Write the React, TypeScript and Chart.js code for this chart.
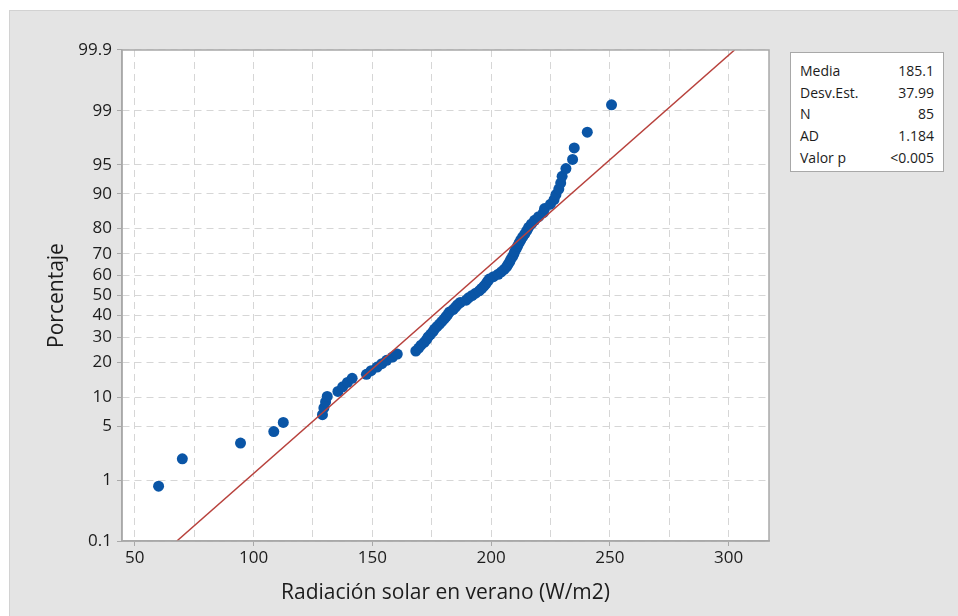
import React, { useEffect, useRef } from "react";
import Chart from "chart.js/auto";

// Radiación solar en verano (W/m2), ordered values
const radiacion: number[] = [
  60, 70, 94.5, 108.5, 112.5, 129, 129.6, 130.3, 131, 135.5,
  137.5, 139.5, 141.5, 147.5, 149.5, 152, 154, 156, 158.5, 160.5,
  168.3, 169.5, 170.5, 171.8, 172.8, 173.5, 174.5, 175.5, 176.2, 177.2,
  178.3, 179.2, 180.2, 181, 181.8, 182.5, 184, 185, 185.8, 187,
  189.5, 190.5, 192, 193.5, 195, 196, 197, 197.8, 198.5, 199.2,
  201, 203, 204.3, 205.5, 206.5, 207.1, 207.8, 208.3, 209, 209.6,
  210, 210.6, 211.2, 211.8, 212.5, 213.3, 214.2, 215, 215.8, 217,
  218.3, 220, 222, 222.5, 225, 226.5, 227.3, 228.5, 229.3, 229.9,
  231.5, 234.3, 235, 240.5, 250.7,
];

const statLabels = ["Media", "Desv.Est.", "N", "AD", "Valor p"];
const statValues = ["185.1", "37.99", "85", "1.184", "<0.005"];
const media = 185.1;
const desvEst = 37.99;

const yTickLabels = ["0.1", "1", "5", "10", "20", "30", "40", "50", "60", "70", "80", "90", "95", "99", "99.9"];
const xTickValues = [50, 75, 100, 125, 150, 175, 200, 225, 250, 275, 300];
const xMin = 44.6;
const xMax = 317;

function probit(p: number): number {
  const a = [-3.969683028665376e1, 2.209460984245205e2, -2.759285104469687e2, 1.38357751867269e2, -3.066479806614716e1, 2.506628277459239];
  const b = [-5.447609879822406e1, 1.615858368580409e2, -1.556989798598866e2, 6.680131188771972e1, -1.328068155288572e1];
  const c = [-7.784894002430293e-3, -3.223964580411365e-1, -2.400758277161838, -2.549732539343734, 4.374664141464968, 2.938163982698783];
  const d = [7.784695709041462e-3, 3.224671290700398e-1, 2.445134137142996, 3.754408661907416];
  const pl = 0.02425;
  const ph = 1 - pl;
  let q: number, r: number;
  if (p < pl) {
    q = Math.sqrt(-2 * Math.log(p));
    return (((((c[0] * q + c[1]) * q + c[2]) * q + c[3]) * q + c[4]) * q + c[5]) / ((((d[0] * q + d[1]) * q + d[2]) * q + d[3]) * q + 1);
  }
  if (p <= ph) {
    q = p - 0.5;
    r = q * q;
    return ((((((a[0] * r + a[1]) * r + a[2]) * r + a[3]) * r + a[4]) * r + a[5]) * q) / (((((b[0] * r + b[1]) * r + b[2]) * r + b[3]) * r + b[4]) * r + 1);
  }
  q = Math.sqrt(-2 * Math.log(1 - p));
  return -(((((c[0] * q + c[1]) * q + c[2]) * q + c[3]) * q + c[4]) * q + c[5]) / ((((d[0] * q + d[1]) * q + d[2]) * q + d[3]) * q + 1);
}

const FONT = "'Open Sans', 'Noto Sans', sans-serif";
const TEXT = "#1c1c1c";

export default function App() {
  const ref = useRef<HTMLCanvasElement | null>(null);

  useEffect(() => {
    if (!ref.current) return;
    const n = radiacion.length;
    // Median-rank plotting positions (Minitab normal probability plot)
    const points = radiacion.map((x, i) => ({ x, y: probit((i + 1 - 0.3) / (n + 0.4)) }));
    const zLo = probit(0.001);
    const zHi = probit(0.999);
    const fitLine = [
      { x: media + zLo * desvEst, y: zLo },
      { x: media + zHi * desvEst, y: zHi },
    ];

    const frame = {
      id: "frame",
      beforeDraw(chart: any) {
        const { ctx, chartArea: a } = chart;
        ctx.save();
        ctx.fillStyle = "#ffffff";
        ctx.fillRect(a.left, a.top, a.right - a.left, a.bottom - a.top);
        ctx.restore();
      },
      afterDraw(chart: any) {
        const { ctx, chartArea: a } = chart;
        ctx.save();
        ctx.strokeStyle = "#a8a8a8";
        ctx.lineWidth = 1.5;
        ctx.strokeRect(a.left, a.top, a.right - a.left, a.bottom - a.top);
        ctx.restore();
      },
    };

    const chart = new Chart(ref.current, {
      type: "scatter",
      data: {
        datasets: [
          {
            type: "line",
            data: fitLine,
            borderColor: "#b8413c",
            borderWidth: 1.5,
            pointRadius: 0,
            fill: false,
            order: 0,
          },
          {
            type: "scatter",
            data: points,
            backgroundColor: "#0a55a6",
            borderColor: "#0a55a6",
            pointRadius: 5.5,
            borderWidth: 0,
            order: 1,
          },
        ],
      },
      plugins: [frame],
      options: {
        responsive: false,
        animation: false,
        layout: { padding: { left: 30.4, top: 39, right: 189, bottom: 6.4 } },
        plugins: { legend: { display: false }, tooltip: { enabled: false } },
        scales: {
          x: {
            type: "linear",
            min: xMin,
            max: xMax,
            afterBuildTicks: (scale: any) => {
              scale.ticks = xTickValues.map((v) => ({ value: v }));
            },
            afterFit: (scale: any) => {
              scale.height = 68.6;
            },
            ticks: {
              autoSkip: false,
              maxRotation: 0,
              padding: 2,
              color: TEXT,
              font: { family: FONT, size: 17 },
              callback: (v: any) => (Number(v) % 50 === 0 ? String(v) : ""),
            },
            grid: {
              color: "#d6d6d6",
              lineWidth: 1,
              tickLength: 5,
              tickColor: (ctx: any) => (ctx.tick && ctx.tick.value % 50 === 0 ? "#a8a8a8" : "rgba(0,0,0,0)"),
            },
            border: { display: true, color: "#a8a8a8", width: 1.5, dash: [7, 5] },
            title: {
              display: true,
              text: "Radiación solar en verano (W/m2)",
              color: TEXT,
              font: { family: FONT, size: 21 },
            },
          },
          y: {
            type: "linear",
            min: zLo,
            max: zHi,
            afterBuildTicks: (scale: any) => {
              scale.ticks = yTickLabels.map((l) => ({ value: probit(parseFloat(l) / 100) }));
            },
            afterFit: (scale: any) => {
              scale.width = 81.6;
            },
            ticks: {
              autoSkip: false,
              padding: 5,
              color: TEXT,
              font: { family: FONT, size: 17 },
              callback: (_v: any, i: number) => yTickLabels[i],
            },
            grid: {
              color: "#d6d6d6",
              lineWidth: 1,
              tickLength: 5,
              tickColor: "#a8a8a8",
            },
            border: { display: true, color: "#a8a8a8", width: 1.5, dash: [7, 5] },
            title: {
              display: true,
              text: "Porcentaje",
              color: TEXT,
              font: { family: FONT, size: 21 },
            },
          },
        },
      },
    } as any);

    return () => chart.destroy();
  }, []);

  return (
    <div
      style={{
        position: "absolute",
        left: 9,
        top: 10,
        width: 949,
        height: 606,
        boxSizing: "border-box",
        borderTop: "1px solid #d2d2d2",
        borderLeft: "1px solid #d2d2d2",
        background: "#e4e4e4",
      }}
    >
      <canvas ref={ref} width={948} height={605} style={{ display: "block", width: 948, height: 605 }} />
      <div
        style={{
          position: "absolute",
          left: 780,
          top: 41,
          width: 154,
          height: 120,
          boxSizing: "border-box",
          border: "1px solid #a8a8a8",
          background: "#ffffff",
          padding: "7px 9px 0 9px",
          fontFamily: FONT,
          fontSize: 14,
          color: TEXT,
        }}
      >
        {statLabels.map((l, i) => (
          <div key={l} style={{ display: "flex", justifyContent: "space-between", lineHeight: "21.7px", height: 21.7 }}>
            <span>{l}</span>
            <span>{statValues[i]}</span>
          </div>
        ))}
      </div>
    </div>
  );
}
